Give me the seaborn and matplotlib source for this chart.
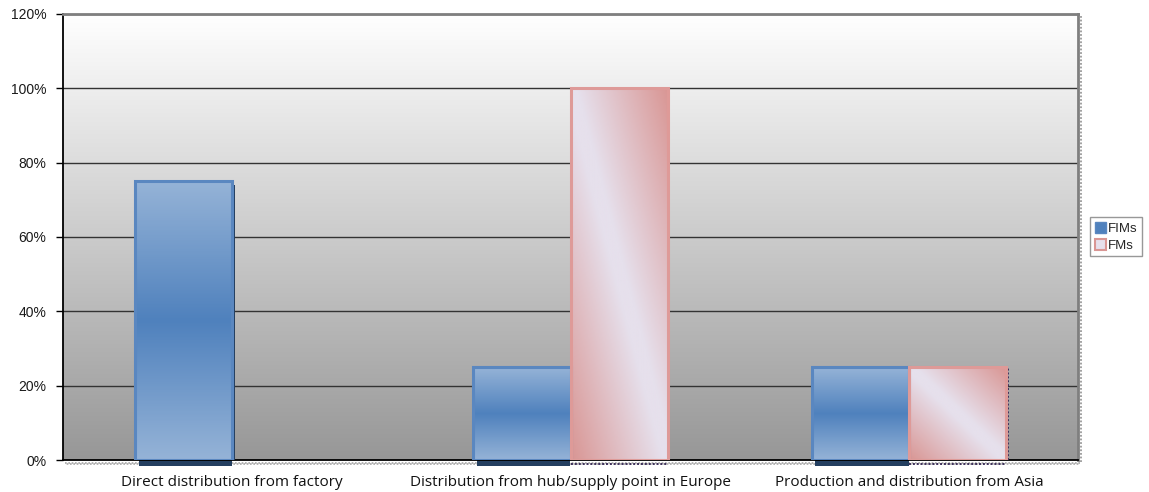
import numpy as np
import pandas as pd
import matplotlib
matplotlib.use("Agg")
import matplotlib.pyplot as plt
import matplotlib.transforms as mtransforms
from matplotlib.colors import LinearSegmentedColormap
from matplotlib.patches import Patch, Rectangle
from matplotlib.ticker import PercentFormatter, MultipleLocator
import seaborn as sns

# Share of respondents per distribution model
categories = [
    "Direct distribution from factory",
    "Distribution from hub/supply point in Europe",
    "Production and distribution from Asia",
]
series_names = ["FIMs", "FMs"]
fims = [0.75, 0.25, 0.25]
fms = [0.00, 1.00, 0.25]

df = pd.DataFrame({
    "category": categories * 2,
    "group": [series_names[0]] * 3 + [series_names[1]] * 3,
    "share": fims + fms,
})

sns.set_theme(style="white")
plt.rcParams["font.family"] = ["Liberation Sans", "DejaVu Sans"]

BLUE_EDGE = "#5A87C0"
BLUE_LIGHT = "#95B3D7"
BLUE_DARK = "#4F81BD"
PINK = "#D99694"
LAVENDER = "#E6E0EC"
NAVY = "#243F60"

fig = plt.figure(figsize=(11.49, 4.92), dpi=100)
ax = fig.add_axes([63 / 1149, 1 - 460 / 492, (1078 - 63) / 1149, (460 - 14) / 492])

sns.barplot(data=df, x="category", y="share", hue="group",
            palette=[BLUE_DARK, PINK], width=0.575, ax=ax,
            legend=False, errorbar=None, zorder=3)

ax.set_ylim(0, 1.2)
ax.set_xlim(-0.5, 2.5)
ax.yaxis.set_major_locator(MultipleLocator(0.2))
ax.yaxis.set_major_formatter(PercentFormatter(1.0, decimals=0))
ax.set_xlabel("")
ax.set_ylabel("")

# Plot-area background: white at the top fading to mid gray
bg_cmap = LinearSegmentedColormap.from_list("bg", ["#979797", "#FFFFFF"])
ax.imshow(np.linspace(0, 1, 256).reshape(-1, 1), cmap=bg_cmap, aspect="auto",
          extent=(-0.5, 2.5, 0, 1.2), origin="lower", zorder=0)

ax.grid(axis="y", color="#333333", linewidth=1.0, zorder=1)
ax.set_axisbelow(True)

blue_cmap = LinearSegmentedColormap.from_list(
    "blue", [BLUE_LIGHT, BLUE_DARK, BLUE_LIGHT])
pink_cmap = LinearSegmentedColormap.from_list(
    "pink", [(0.0, PINK), (0.47, LAVENDER), (0.53, LAVENDER), (1.0, PINK)])

vert = np.linspace(0, 1, 200).reshape(-1, 1) * np.ones((1, 2))
uu, vv = np.meshgrid(np.linspace(0, 1, 120), np.linspace(0, 1, 200))
diag = (uu + vv) / 2

px = fig.dpi_scale_trans
n = len(categories)
for i, bar in enumerate(ax.patches):
    h = bar.get_height()
    if h <= 0:
        bar.set_visible(False)
        continue
    x0, w = bar.get_x(), bar.get_width()
    is_blue = i < n
    data = vert if is_blue else diag
    cmap = blue_cmap if is_blue else pink_cmap
    bar.set_facecolor("none")
    bar.set_edgecolor(BLUE_EDGE if is_blue else "#DE9A98")
    bar.set_linewidth(2.2)
    bar.set_zorder(5)
    img = ax.imshow(data, cmap=cmap, aspect="auto", origin="lower",
                    extent=(x0, x0 + w, 0, h), zorder=4, vmin=0, vmax=1)
    img.set_clip_path(bar)
    # drop shadow on the right edge
    shift = mtransforms.ScaledTranslation(3 / 100, -4 / 100, px)
    if is_blue:
        sh = Rectangle((x0 + w * 0.98, 0), w * 0.02, h, facecolor=NAVY,
                       edgecolor="none", zorder=3.5,
                       transform=ax.transData + shift)
        ax.add_patch(sh)
        under = Rectangle((x0 + w * 0.04, 0), w * 0.96, 0.014,
                          facecolor=NAVY, edgecolor="none", zorder=2,
                          transform=ax.transData + mtransforms.ScaledTranslation(0, -5.5 / 100, px),
                          clip_on=False)
        ax.add_patch(under)
    else:
        ax.plot([x0 + w, x0 + w], [0, h], color="#3C2E5A", linewidth=1.4,
                linestyle=(0, (1.0, 1.0)), zorder=3.5,
                transform=ax.transData + mtransforms.ScaledTranslation(1.5 / 100, 0, px))
        ax.plot([x0, x0 + w], [0, 0], color="#3C2E5A", linewidth=1.4,
                linestyle=(0, (1.0, 1.0)), zorder=1.5, clip_on=False,
                transform=ax.transData + mtransforms.ScaledTranslation(0, -4 / 100, px))

# fine checkered shadow strip below the category axis
for dy, off in ((-2.5, 0), (-4.0, 1)):
    ax.plot([-0.5, 2.5], [0, 0], color="#A8A8A8", linewidth=1.2,
            linestyle=(off, (1, 1)),
            transform=ax.transData + mtransforms.ScaledTranslation(2 / 100, dy / 100, px),
            clip_on=False, zorder=1)
# dotted shadow along the right border
ax.plot([2.5, 2.5], [0, 1.2], color="#9A9A9A", linewidth=1.3, linestyle=(0, (1, 1)),
        transform=ax.transData + mtransforms.ScaledTranslation(2.5 / 100, -2 / 100, px),
        clip_on=False, zorder=1)

for side in ("top", "right"):
    ax.spines[side].set_color("#7F7F7F")
    ax.spines[side].set_linewidth(2)
ax.spines["left"].set_color("black")
ax.spines["left"].set_linewidth(1.3)
ax.spines["bottom"].set_color("black")
ax.spines["bottom"].set_linewidth(1.3)

ax.tick_params(axis="y", direction="out", length=5, width=1, color="black",
               labelsize=10, pad=7, left=True)
ax.tick_params(axis="x", length=0, pad=11)
for lab in ax.get_yticklabels():
    lab.set_color("#1A1A1A")
for lab in ax.get_xticklabels():
    lab.set_fontfamily(["Open Sans", "DejaVu Sans"])
    lab.set_fontsize(11)
    lab.set_color("#111111")
    lab.set_fontweight("medium")

handles = [Patch(facecolor=BLUE_DARK, edgecolor=BLUE_EDGE, label=series_names[0]),
           Patch(facecolor=LAVENDER, edgecolor=PINK, linewidth=1.5, label=series_names[1])]
leg = fig.legend(handles=handles, loc="upper left",
                 bbox_to_anchor=(1090 / 1149, 1 - 217 / 492),
                 frameon=True, fontsize=9.5, handlelength=0.9, handleheight=0.9,
                 handletextpad=0.1, borderpad=0.35, labelspacing=0.3,
                 borderaxespad=0, fancybox=False)
leg.get_frame().set_edgecolor("#7F7F7F")
leg.get_frame().set_linewidth(1)

fig.savefig("out.png", dpi=100)
